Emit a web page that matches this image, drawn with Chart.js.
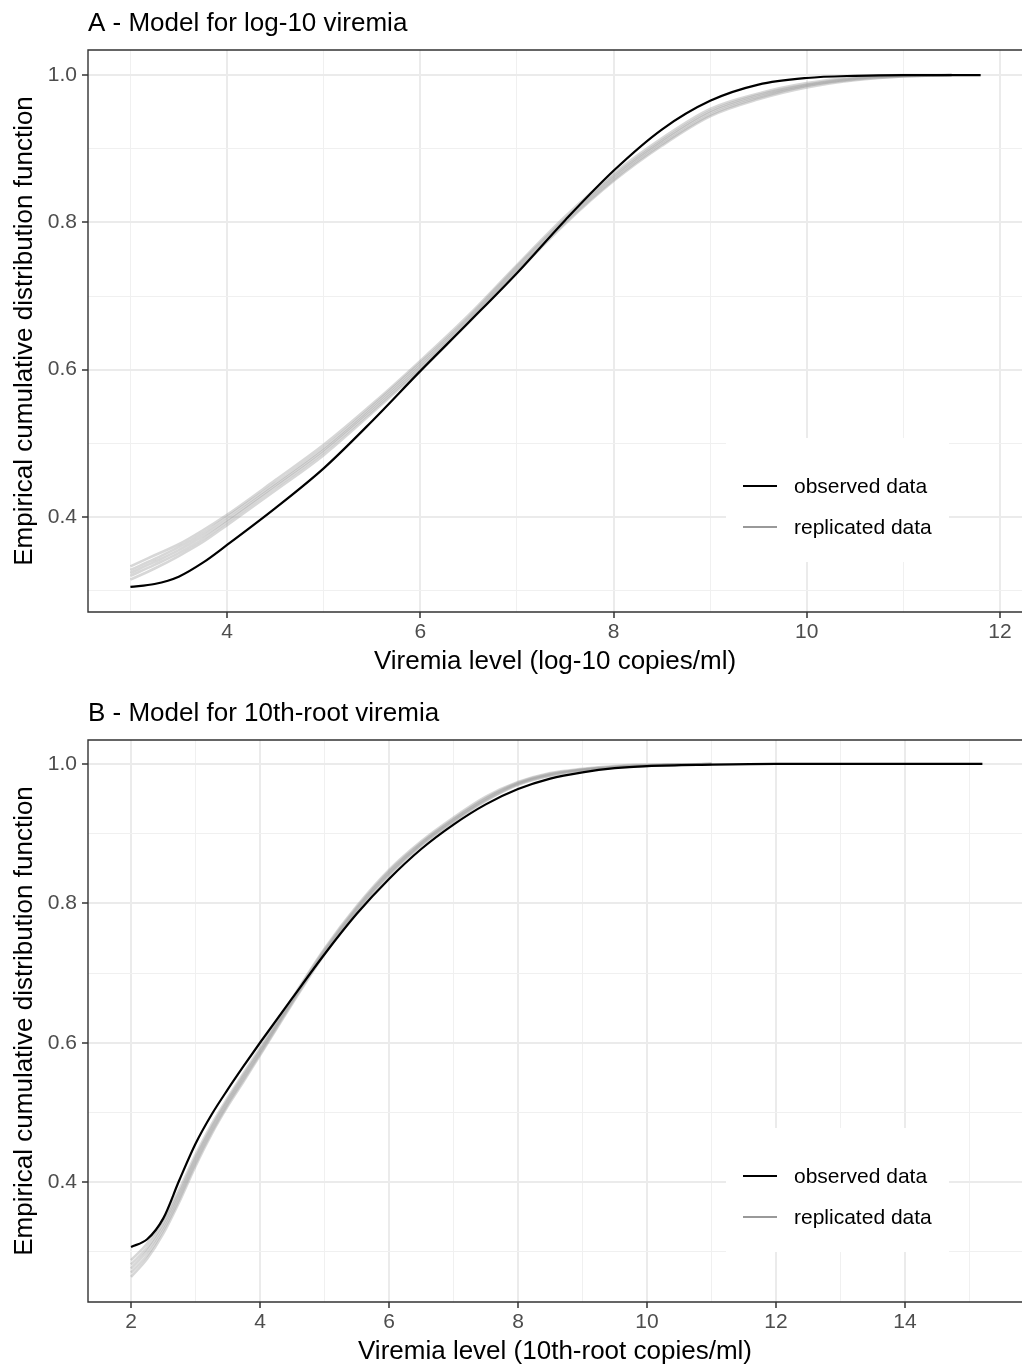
<!DOCTYPE html>
<html>
<head>
<meta charset="utf-8">
<title>Posterior predictive ECDF - viremia models</title>
<script src="https://cdn.jsdelivr.net/npm/chart.js@4.4.1/dist/chart.umd.min.js"></script>
<style>
    html, body { margin: 0; padding: 0; background: #ffffff; overflow: hidden; }
    .panel { position: absolute; left: 0; width: 1022px; height: 690px; }
    #panelA { top: 0; }
    #panelB { top: 690px; }
</style>
</head>
<body>
<div class="panel" id="panelA"><canvas id="chartA" width="1022" height="690"></canvas></div>
<div class="panel" id="panelB"><canvas id="chartB" width="1022" height="690"></canvas></div>

<script>
// ---- data ----

// Panel A: log-10 viremia
const xObservedA = [3, 3.25, 3.5, 3.75, 4, 4.5, 5, 5.5, 6, 6.5, 7, 7.5, 8, 8.5, 9, 9.5, 10, 10.5, 11, 11.8];
const observedA = [0.305, 0.309, 0.319, 0.338, 0.362, 0.412, 0.466, 0.530, 0.598, 0.664, 0.731, 0.803, 0.870, 0.926, 0.965, 0.987, 0.996, 0.999, 1.000, 1.000];

const xReplicatedA = [3, 3.25, 3.5, 3.75, 4, 4.5, 5, 5.5, 6, 6.5, 7, 7.5, 8, 8.5, 9, 9.5, 10, 10.5, 11, 11.5];
const replicatedA1 = [0.333, 0.348, 0.363, 0.382, 0.403, 0.450, 0.498, 0.553, 0.612, 0.674, 0.742, 0.808, 0.866, 0.914, 0.954, 0.975, 0.989, 0.997, 1.000, 1.000];
const replicatedA2 = [0.328, 0.343, 0.359, 0.378, 0.400, 0.446, 0.494, 0.550, 0.609, 0.671, 0.740, 0.805, 0.863, 0.911, 0.951, 0.973, 0.987, 0.996, 0.999, 1.000];
const replicatedA3 = [0.324, 0.339, 0.355, 0.374, 0.396, 0.443, 0.491, 0.547, 0.606, 0.669, 0.737, 0.803, 0.861, 0.909, 0.949, 0.971, 0.986, 0.995, 0.999, 1.000];
const replicatedA4 = [0.320, 0.335, 0.351, 0.370, 0.393, 0.440, 0.488, 0.544, 0.603, 0.666, 0.735, 0.800, 0.858, 0.906, 0.946, 0.969, 0.985, 0.994, 0.998, 1.000];
const replicatedA5 = [0.315, 0.330, 0.347, 0.366, 0.389, 0.436, 0.484, 0.541, 0.600, 0.664, 0.732, 0.798, 0.856, 0.904, 0.944, 0.967, 0.983, 0.993, 0.998, 1.000];

// Panel B: 10th-root viremia
const xObservedB = [2, 2.25, 2.5, 2.75, 3, 3.25, 3.5, 3.75, 4, 4.5, 5, 5.5, 6, 6.5, 7, 7.5, 8, 8.5, 9, 9.5, 10, 11, 12, 15.2];
const observedB = [0.307, 0.318, 0.348, 0.403, 0.455, 0.497, 0.533, 0.567, 0.600, 0.664, 0.727, 0.785, 0.835, 0.878, 0.913, 0.942, 0.964, 0.979, 0.988, 0.994, 0.997, 0.999, 1.000, 1.000];

const xReplicatedB = [2, 2.25, 2.5, 2.75, 3, 3.25, 3.5, 3.75, 4, 4.5, 5, 5.5, 6, 6.5, 7, 7.5, 8, 8.5, 9, 9.5, 10, 10.5, 11];
const replicatedB1 = [0.288, 0.312, 0.346, 0.390, 0.439, 0.483, 0.521, 0.557, 0.592, 0.664, 0.735, 0.796, 0.848, 0.889, 0.923, 0.953, 0.974, 0.987, 0.993, 0.997, 0.999, 0.999, 1.000];
const replicatedB2 = [0.282, 0.306, 0.341, 0.385, 0.435, 0.479, 0.518, 0.554, 0.589, 0.662, 0.733, 0.794, 0.846, 0.887, 0.921, 0.951, 0.973, 0.986, 0.992, 0.996, 0.998, 0.999, 1.000];
const replicatedB3 = [0.276, 0.301, 0.336, 0.381, 0.431, 0.476, 0.515, 0.551, 0.587, 0.660, 0.731, 0.792, 0.844, 0.886, 0.920, 0.950, 0.972, 0.985, 0.992, 0.996, 0.998, 0.999, 1.000];
const replicatedB4 = [0.270, 0.295, 0.331, 0.376, 0.427, 0.472, 0.512, 0.548, 0.584, 0.658, 0.729, 0.790, 0.842, 0.884, 0.918, 0.948, 0.971, 0.984, 0.991, 0.995, 0.997, 0.999, 1.000];
const replicatedB5 = [0.264, 0.290, 0.326, 0.372, 0.423, 0.469, 0.509, 0.545, 0.582, 0.656, 0.727, 0.788, 0.840, 0.883, 0.917, 0.947, 0.970, 0.983, 0.991, 0.995, 0.997, 0.999, 1.000];

// ticks (odd ones are minor grid lines without label)
const xTicksA = [3, 4, 5, 6, 7, 8, 9, 10, 11, 12];
const xTicksB = [2, 3, 4, 5, 6, 7, 8, 9, 10, 11, 12, 13, 14, 15];
const yTicks = [0.3, 0.4, 0.5, 0.6, 0.7, 0.8, 0.9, 1.0];

const panelTitles = ['A - Model for log-10 viremia', 'B - Model for 10th-root viremia'];
const xAxisTitles = ['Viremia level (log-10 copies/ml)', 'Viremia level (10th-root copies/ml)'];
const yAxisTitle = 'Empirical cumulative distribution function';
const legendLabels = ['observed data', 'replicated data'];

const FONT = '"Liberation Sans", Arial, Helvetica, sans-serif';

function toPoints(xs, ys) {
    return xs.map(function(x, i) { return { x: x, y: ys[i] }; });
}

// panel title, border and inside legend (ggplot style)
const panelDecor = {
    id: 'panelDecor',
    afterDraw: function(chart, args, opts) {
        const ctx = chart.ctx;
        const a = chart.chartArea;
        ctx.save();

        // panel border (right side runs off the page)
        ctx.strokeStyle = '#333333';
        ctx.lineWidth = 1.4;
        ctx.beginPath();
        ctx.moveTo(chart.width + 2, a.top);
        ctx.lineTo(a.left, a.top);
        ctx.lineTo(a.left, a.bottom);
        ctx.lineTo(chart.width + 2, a.bottom);
        ctx.stroke();

        // title
        ctx.fillStyle = '#000000';
        ctx.font = '26px ' + FONT;
        ctx.textAlign = 'left';
        ctx.textBaseline = 'alphabetic';
        ctx.fillText(opts.title, a.left, 31);

        // legend box
        ctx.fillStyle = '#ffffff';
        ctx.fillRect(726, 438, 223, 124);
        const keyColors = ['#000000', '#999999'];
        const keyY = [486, 527];
        ctx.font = '21px ' + FONT;
        ctx.textBaseline = 'middle';
        legendLabels.forEach(function(label, i) {
            ctx.strokeStyle = keyColors[i];
            ctx.lineWidth = 2;
            ctx.beginPath();
            ctx.moveTo(743, keyY[i]);
            ctx.lineTo(777, keyY[i]);
            ctx.stroke();
            ctx.fillStyle = '#000000';
            ctx.fillText(label, 794, keyY[i] + 1);
        });
        ctx.restore();
    }
};

const ViremiaCharts = {
    initializeAllCharts: function() {
        console.log('Viremia ECDF charts initializing...');
        this.createPanel('chartA', 0, {
            observed: toPoints(xObservedA, observedA),
            replicated: [replicatedA1, replicatedA2, replicatedA3, replicatedA4, replicatedA5].map(function(r) { return toPoints(xReplicatedA, r); }),
            xTicks: xTicksA, xMin: 2.561, xMax: 12.228, yMin: 0.271, yMax: 1.034
        });
        this.createPanel('chartB', 1, {
            observed: toPoints(xObservedB, observedB),
            replicated: [replicatedB1, replicatedB2, replicatedB3, replicatedB4, replicatedB5].map(function(r) { return toPoints(xReplicatedB, r); }),
            xTicks: xTicksB, xMin: 1.333, xMax: 15.814, yMin: 0.228, yMax: 1.0344
        });
        console.log('Viremia ECDF charts initialized');
    },

    createPanel: function(canvasId, idx, cfg) {
        const ctx = document.getElementById(canvasId);
        if (!ctx) {
            console.log('No canvas found for ' + canvasId);
            return;
        }

        const datasets = [{
            label: legendLabels[0],
            data: cfg.observed,
            borderColor: '#000000',
            borderWidth: 2.2,
            pointRadius: 0,
            cubicInterpolationMode: 'monotone'
        }];
        cfg.replicated.forEach(function(rep) {
            datasets.push({
                label: legendLabels[1],
                data: rep,
                borderColor: 'rgba(160, 160, 160, 0.42)',
                borderWidth: 2.6,
                pointRadius: 0,
                cubicInterpolationMode: 'monotone'
            });
        });

        const isMajorX = function(v) { return Math.round(v) % 2 === 0; };
        const isMajorY = function(v) { return Math.round(v * 10) % 2 === 0; };

        try {
            ctx.chart = new Chart(ctx, {
                type: 'line',
                data: { datasets: datasets },
                options: {
                    responsive: false,
                    animation: false,
                    devicePixelRatio: 1,
                    layout: { padding: { top: 50, left: 0, right: 0, bottom: 0 } },
                    plugins: {
                        legend: { display: false },
                        tooltip: { enabled: false },
                        panelDecor: { title: panelTitles[idx] }
                    },
                    scales: {
                        x: {
                            type: 'linear',
                            min: cfg.xMin,
                            max: cfg.xMax,
                            afterBuildTicks: function(scale) {
                                scale.ticks = cfg.xTicks.map(function(v) { return { value: v }; });
                            },
                            afterFit: function(scale) { scale.height = 78; },
                            border: { display: false },
                            grid: {
                                color: function(c) { return c.tick && isMajorX(c.tick.value) ? '#EBEBEB' : '#F0F0F0'; },
                                lineWidth: function(c) { return c.tick && isMajorX(c.tick.value) ? 2 : 1; },
                                tickColor: function(c) { return c.tick && isMajorX(c.tick.value) ? '#333333' : 'rgba(0,0,0,0)'; },
                                tickWidth: 1.5,
                                tickLength: 6
                            },
                            ticks: {
                                autoSkip: false,
                                maxRotation: 0,
                                padding: 2,
                                color: '#4D4D4D',
                                font: { family: FONT, size: 21 },
                                callback: function(v) { return isMajorX(v) ? String(v) : ''; }
                            },
                            title: {
                                display: true,
                                text: xAxisTitles[idx],
                                color: '#000000',
                                font: { family: FONT, size: 26 },
                                padding: { top: 0, bottom: 13 }
                            }
                        },
                        y: {
                            type: 'linear',
                            min: cfg.yMin,
                            max: cfg.yMax,
                            afterBuildTicks: function(scale) {
                                scale.ticks = yTicks.map(function(v) { return { value: v }; });
                            },
                            afterFit: function(scale) { scale.width = 88; },
                            border: { display: false },
                            grid: {
                                color: function(c) { return c.tick && isMajorY(c.tick.value) ? '#EBEBEB' : '#F0F0F0'; },
                                lineWidth: function(c) { return c.tick && isMajorY(c.tick.value) ? 2 : 1; },
                                tickColor: function(c) { return c.tick && isMajorY(c.tick.value) ? '#333333' : 'rgba(0,0,0,0)'; },
                                tickWidth: 1.5,
                                tickLength: 6
                            },
                            ticks: {
                                autoSkip: false,
                                padding: 5,
                                color: '#4D4D4D',
                                font: { family: FONT, size: 21 },
                                callback: function(v) { return isMajorY(v) ? v.toFixed(1) : ''; }
                            },
                            title: {
                                display: true,
                                text: yAxisTitle,
                                color: '#000000',
                                font: { family: FONT, size: 26 },
                                padding: { top: 9, bottom: 0 }
                            }
                        }
                    }
                },
                plugins: [panelDecor]
            });
            console.log('Panel ' + canvasId + ' created');
        } catch (error) {
            console.error('Error creating panel ' + canvasId + ':', error);
        }
    }
};

window.viremiaCharts = ViremiaCharts;

document.addEventListener('DOMContentLoaded', function() {
    window.viremiaCharts.initializeAllCharts();
});
</script>
</body>
</html>
